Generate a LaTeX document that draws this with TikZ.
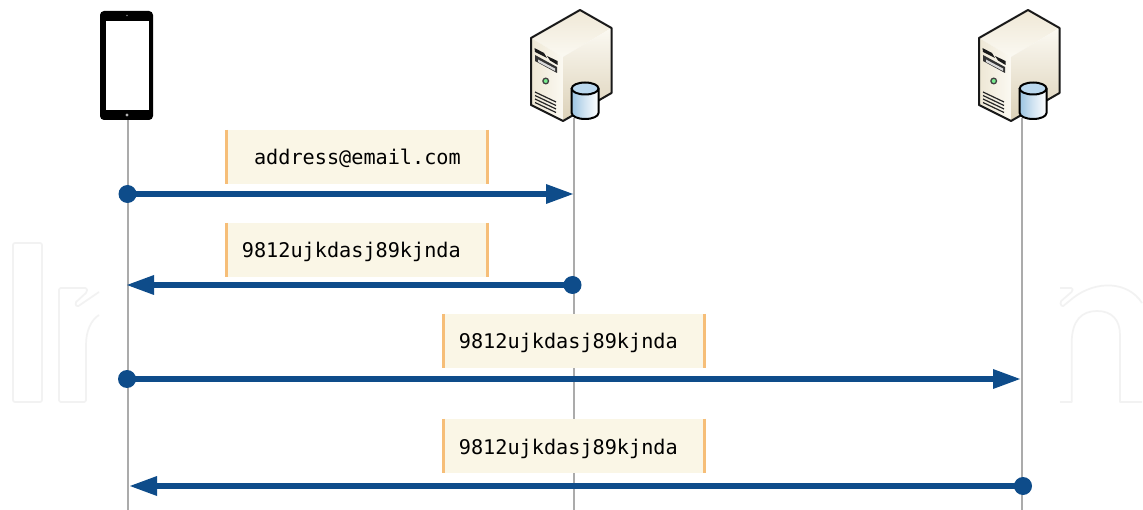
\documentclass[tikz,border=0pt]{standalone}
\usepackage{fontspec}
\setmonofont{DejaVu Sans Mono}
\definecolor{flow}{HTML}{0E4C8A}
\definecolor{life}{HTML}{ABABAB}
\definecolor{msgbg}{HTML}{FAF6E6}
\definecolor{msgbar}{HTML}{F6BE78}
\definecolor{srvfront}{HTML}{EEE7D4}
\definecolor{srvlight}{HTML}{FBF9F2}
\definecolor{srvdark}{HTML}{DCD1B8}
\definecolor{srvtop}{HTML}{EFE8D6}
\definecolor{cylside}{HTML}{9CC4E2}
\definecolor{cyltop}{HTML}{BBD8EE}
\definecolor{wmark}{HTML}{F2F2F2}
\tikzset{
  lifeline/.style={draw=life,line width=2.4pt},
  msgbox/.style={fill=msgbg,draw=none,minimum height=54pt,inner sep=0pt},
  msgtext/.style={font=\ttfamily\fontsize{20.2pt}{24pt}\selectfont,text=black,inner sep=0pt,anchor=base east},
  msgbarline/.style={draw=msgbar,line width=2.6pt},
  flowline/.style={draw=flow,line width=6.2pt},
  flowhead/.style={fill=flow,draw=none},
  startdot/.style={circle,fill=flow,draw=none,minimum size=18pt,inner sep=0pt},
  wm/.style={draw=wmark,line width=1.7pt,line join=round},
  srvline/.style={draw=black!90,line width=2pt,line join=round},
}
\newcommand{\myserver}[2]{%
  \begin{scope}[shift={(#1,#2)}]
    \shade[top color=srvtop,bottom color=srvlight] (580,10) -- (611.5,28) -- (563,57) -- (531,38) -- cycle;
    \shade[left color=srvfront,right color=srvlight] (531,38) -- (563,57) -- (563,121) -- (531,105) -- cycle;
    \shade[top color=srvlight,bottom color=srvdark] (563,57) -- (611.5,28) -- (611.5,93) -- (563,121) -- cycle;
    \draw[srvline] (580,10) -- (611.5,28) -- (611.5,93) -- (563,121) -- (531,105) -- (531,38) -- cycle;
    \fill[black!90] (534.5,48) -- (544,53) -- (547,58) -- (535,52) -- cycle;
    \fill[black!90] (547,56) -- (557.5,61) -- (557.5,65) -- (550,60.5) -- cycle;
    \fill[black!80] (535,55) -- (557,67) -- (557,73) -- (535,61) -- cycle;
    \fill[white!85!black] (538,59.5) -- (555,68.5) -- (555,71) -- (538,62) -- cycle;
    \draw[black!75,fill=white!45!cylside!60!green,line width=1.3pt] (545.7,81) circle (2.8);
    \foreach \yy in {92,95.5,99,102.5}
      \draw[black!85,line width=1.2pt] (535,\yy) -- (556,\yy+10);
    \shade[left color=cylside,right color=white,middle color=cylside!45] (571.7,88.5) -- (571.7,113) arc[start angle=180,end angle=0,x radius=13.4,y radius=6] -- (598.5,88.5) -- cycle;
    \draw[black,line width=2pt,fill=cyltop] (585.1,88.5) ellipse[x radius=13.4,y radius=6];
    \draw[black,line width=2pt] (571.7,88.5) -- (571.7,113) arc[start angle=180,end angle=0,x radius=13.4,y radius=6] -- (598.5,88.5);
  \end{scope}}
\begin{document}
\begin{tikzpicture}[x=1pt,y=-1pt]
\useasboundingbox (0,0) rectangle (1143,510);
\fill[white] (0,0) rectangle (1143,510);
% faint background outlines
\draw[wm,rounded corners=2pt] (13,243) rectangle (42,402);
\draw[wm,rounded corners=1.5pt] (99,292) -- (77,307) -- (75,303) -- (87,292) -- (87,288) -- (59,288) -- (59,402) -- (86,402) -- (86,345);
\draw[wm] (86,345) .. controls (86,331) and (91,320) .. (99,315);
\draw[wm,rounded corners=1.5pt] (1060,288) -- (1072.7,288) -- (1072.7,291) -- (1060,302) -- (1062,307) -- (1073,298);
\draw[wm] (1073,298) .. controls (1096,280) and (1128,281) .. (1142,303);
\draw[wm] (1060,402) -- (1071.7,402) -- (1071.7,343) .. controls (1071.7,320) and (1082,311) .. (1097,311) .. controls (1112,311) and (1120,320) .. (1120,335) -- (1120,402) -- (1142,402);
% lifelines
\coordinate (phoneb) at (128,120);
\coordinate (srvAb) at (574,118);
\coordinate (srvBb) at (1022,118);
\coordinate (phonee) at (128,510);
\coordinate (srvAe) at (574,510);
\coordinate (srvBe) at (1022,510);
\draw[lifeline] (phoneb) -- (phonee);
\draw[lifeline] (srvAb) -- (srvAe);
\draw[lifeline] (srvBb) -- (srvBe);
% phone
\fill[black,rounded corners=4pt] (100,11) rectangle (153,120);
\fill[white] (106,21) rectangle (149,110);
\fill[white!50!black] (127,15.5) circle (.9);
\fill[white!70!black] (127,115) circle (1.6);
% servers
\myserver{0}{0}
\myserver{448}{0}
% message boxes
\node[msgbox,minimum width=261pt] (m1) at (357,157) {};
\node[msgbox,minimum width=261pt] (m2) at (357,250) {};
\node[msgbox,minimum width=261pt] (m3) at (574,341) {};
\node[msgbox,minimum width=261pt] (m4) at (574,446) {};
\foreach \m in {m1,m2,m3,m4}{
  \draw[msgbarline] (\m.north west) -- (\m.south west);
  \draw[msgbarline] (\m.north east) -- (\m.south east);
}
\node[msgtext] (t1) at (461,165) {address@email.com};
\node[msgtext] (t2) at (461,258) {9812ujkdasj89kjnda};
\node[msgtext] (t3) at (678,349) {9812ujkdasj89kjnda};
\node[msgtext] (t4) at (678,454) {9812ujkdasj89kjnda};
% flows
\node[startdot] (s1) at (127.5,194) {};
\coordinate (e1) at (546,194);
\coordinate (tip1) at (573,194);
\draw[flowline] (s1.center) -- (e1);
\fill[flowhead] (tip1) -- ++(-27,-10) -- ++(0,20) -- cycle;
\node[startdot] (s2) at (572.5,285) {};
\coordinate (e2) at (154,285);
\coordinate (tip2) at (127,285);
\draw[flowline] (s2.center) -- (e2);
\fill[flowhead] (tip2) -- ++(27,-10) -- ++(0,20) -- cycle;
\node[startdot] (s3) at (127,379) {};
\coordinate (e3) at (993,379);
\coordinate (tip3) at (1020,379);
\draw[flowline] (s3.center) -- (e3);
\fill[flowhead] (tip3) -- ++(-27,-10) -- ++(0,20) -- cycle;
\node[startdot] (s4) at (1023,486) {};
\coordinate (e4) at (157,486);
\coordinate (tip4) at (130,486);
\draw[flowline] (s4.center) -- (e4);
\fill[flowhead] (tip4) -- ++(27,-10) -- ++(0,20) -- cycle;
\end{tikzpicture}
\end{document}
